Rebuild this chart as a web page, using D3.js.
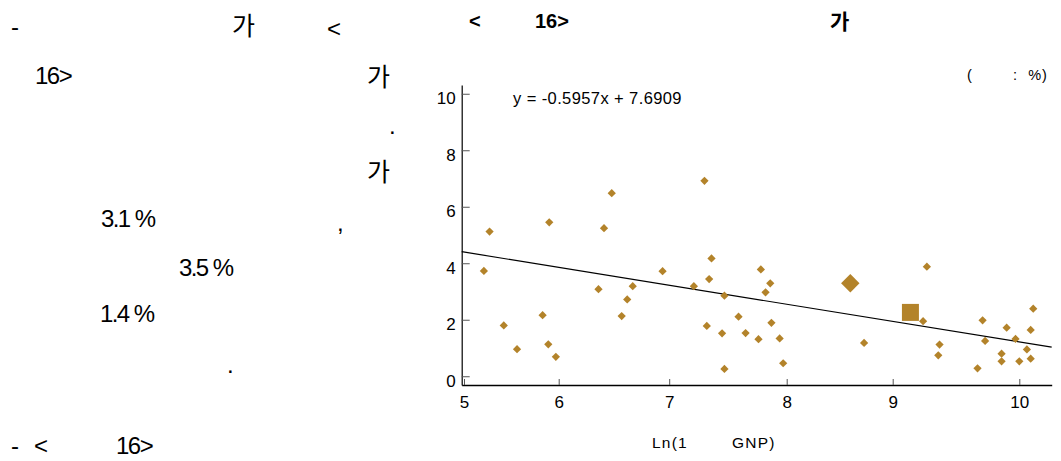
<!DOCTYPE html>
<html>
<head>
<meta charset="utf-8">
<script src="https://cdn.jsdelivr.net/npm/d3@7"></script>
<style>
  html, body { margin: 0; padding: 0; background: #fff; }
  svg { display: block; }
  .kr { font-family: "Noto Sans CJK KR", "Noto Sans", sans-serif; }
  .lat { font-family: "Liberation Sans", Arial, sans-serif; }
</style>
</head>
<body>
<svg id="chart" width="1061" height="461"></svg>
<script>
// ---------- data ----------
const lnGnp = [5.21, 5.27, 5.42, 5.56, 5.83, 5.90, 5.89, 5.97, 6.36, 6.41, 6.48, 6.57, 6.62, 6.67, 6.94,
  7.21, 7.30, 7.32, 7.34, 7.36, 7.45, 7.47, 7.47, 7.59, 7.65, 7.76, 7.78, 7.82, 7.86, 7.87, 7.94, 7.97,
  8.73, 9.24, 9.27, 9.36, 9.37, 9.67, 9.71, 9.73, 9.86, 9.86, 9.90, 9.97, 10.00, 10.06, 10.09, 10.09, 10.11];
const growth = [3.73, 5.12, 1.80, 0.96, 2.16, 5.45, 1.13, 0.69, 3.08, 5.24, 6.48, 2.13, 2.72, 3.19, 3.72,
  3.19, 6.92, 1.78, 3.44, 4.17, 1.52, 2.85, 0.26, 2.11, 1.53, 1.31, 3.78, 2.97, 3.29, 1.89, 1.34, 0.46,
  1.18, 1.95, 3.88, 0.74, 1.12, 0.28, 1.98, 1.25, 0.80, 0.53, 1.72, 1.32, 0.53, 0.95, 0.62, 1.64, 2.39];
const highlightDiamond = [8.60, 3.29];   // large diamond
const highlightSquare = [9.14, 2.26];    // large square
const trendX = [4.976, 10.256];
const trendY = [4.41, 1.03];
const xTicks = [5, 6, 7, 8, 9, 10];
const yTicks = [0, 2, 4, 6, 8, 10];
const equation = "y = -0.5957x + 7.6909";
const xTitleA = "Ln(1";
const xTitleB = "GNP)";

// ---------- scales ----------
const svg = d3.select("#chart");
const x = d3.scaleLinear()
  .domain([4.976, 5, 6, 7, 8, 9, 10, 10.256])
  .range([461.7, 464, 558.7, 669.2, 786.7, 892.7, 1019.3, 1051.7]);
const y = d3.scaleLinear().domain([-0.31, 10.31]).range([385, 85]);
const gold = "#B3832A";

// ---------- left body text (fragments) ----------
const body = svg.append("g").attr("fill", "#000");
function t(str, px, py, size, cls) {
  return body.append("text").attr("x", px).attr("y", py).attr("class", cls)
    .attr("font-size", size).attr("xml:space", "preserve").style("white-space", "pre").text(str);
}
t("-", 11, 35, 24, "lat");
t("가", 232, 35, 25, "kr");
t("<", 327, 37, 24, "lat");
t("16>", 35, 84, 24, "lat").attr("letter-spacing", -1.5);
t("가", 367, 86, 25, "kr");
t(".", 389, 134, 24, "lat");
t("가", 367, 181, 25, "kr");
t("3.1 %", 101, 227, 24, "lat").attr("letter-spacing", -1.6);
t(",", 337, 231, 24, "lat");
t("3.5 %", 179, 276, 24, "lat").attr("letter-spacing", -1.6);
t("1.4 %", 100, 322, 24, "lat").attr("letter-spacing", -1.6);
t(".", 227, 373, 24, "lat");
t("-", 11, 454, 24, "lat");
t("<", 34, 454, 24, "lat");
t("16>", 116, 454, 24, "lat").attr("letter-spacing", -1.5);

// ---------- chart title ----------
const title = svg.append("g").attr("font-weight", "bold").attr("font-size", 20);
title.append("text").attr("class", "lat").attr("x", 469).attr("y", 28).text("<");
title.append("text").attr("class", "lat").attr("x", 535).attr("y", 28).text("16>");
title.append("text").attr("class", "kr").attr("x", 830).attr("y", 29).attr("font-size", 21).text("가");

svg.append("text").attr("class", "lat").attr("x", 967).attr("y", 80).attr("font-size", 14.5)
  .attr("xml:space", "preserve").style("white-space", "pre").attr("letter-spacing", 1)
  .text("(        :  %)");

// ---------- axes ----------
const gx = svg.append("g").attr("transform", "translate(0,385)")
  .call(d3.axisBottom(x).tickValues(xTicks).tickSizeInner(-6).tickSizeOuter(0).tickPadding(11)
    .tickFormat(d3.format("d")));
gx.select(".domain").attr("stroke", "#000").attr("stroke-width", 1.5);
gx.selectAll(".tick line").attr("stroke", "#555");
gx.selectAll(".tick text").attr("class", "lat").attr("font-size", 17).attr("fill", "#000");

const gy = svg.append("g").attr("transform", "translate(461.7,0)")
  .call(d3.axisLeft(y).tickValues(yTicks).tickSizeInner(-8).tickSizeOuter(0).tickPadding(6)
    .tickFormat(d3.format("d")));
gy.select(".domain").attr("stroke", "#000").attr("stroke-width", 1.2);
gy.selectAll(".tick line").attr("stroke", "#555");
gy.selectAll(".tick text").attr("class", "lat").attr("font-size", 17).attr("fill", "#000").attr("dy", "0.6em");
gy.attr("font-family", null);
gx.attr("font-family", null);

// ---------- trend line ----------
svg.append("line")
  .attr("x1", x(trendX[0])).attr("y1", y(trendY[0]))
  .attr("x2", x(trendX[1])).attr("y2", y(trendY[1]))
  .attr("stroke", "#000").attr("stroke-width", 1.2);

// ---------- points ----------
const pts = lnGnp.map((v, i) => [v, growth[i]]);
const diamond = d3.symbol().type(d3.symbolSquare);
svg.append("g").selectAll("path").data(pts).join("path")
  .attr("d", diamond.size(34)())
  .attr("transform", d => `translate(${x(d[0])},${y(d[1])}) rotate(45)`)
  .attr("fill", gold);

svg.append("path")
  .attr("d", d3.symbol().type(d3.symbolSquare).size(170)())
  .attr("transform", `translate(${x(highlightDiamond[0])},${y(highlightDiamond[1])}) rotate(45)`)
  .attr("fill", gold);

svg.append("path")
  .attr("d", d3.symbol().type(d3.symbolSquare).size(289)())
  .attr("transform", `translate(${x(highlightSquare[0])},${y(highlightSquare[1])})`)
  .attr("fill", gold);

// ---------- equation & axis title ----------
svg.append("text").attr("class", "lat").attr("x", 513).attr("y", 104).attr("font-size", 16.5)
  .attr("letter-spacing", 0.4)
  .attr("xml:space", "preserve").style("white-space", "pre").text(equation);
svg.append("text").attr("class", "lat").attr("x", 652).attr("y", 448).attr("font-size", 15.5)
  .attr("letter-spacing", 1.2).text(xTitleA);
svg.append("text").attr("class", "lat").attr("x", 732).attr("y", 448).attr("font-size", 15.5)
  .attr("letter-spacing", 1.2).text(xTitleB);
</script>
</body>
</html>
